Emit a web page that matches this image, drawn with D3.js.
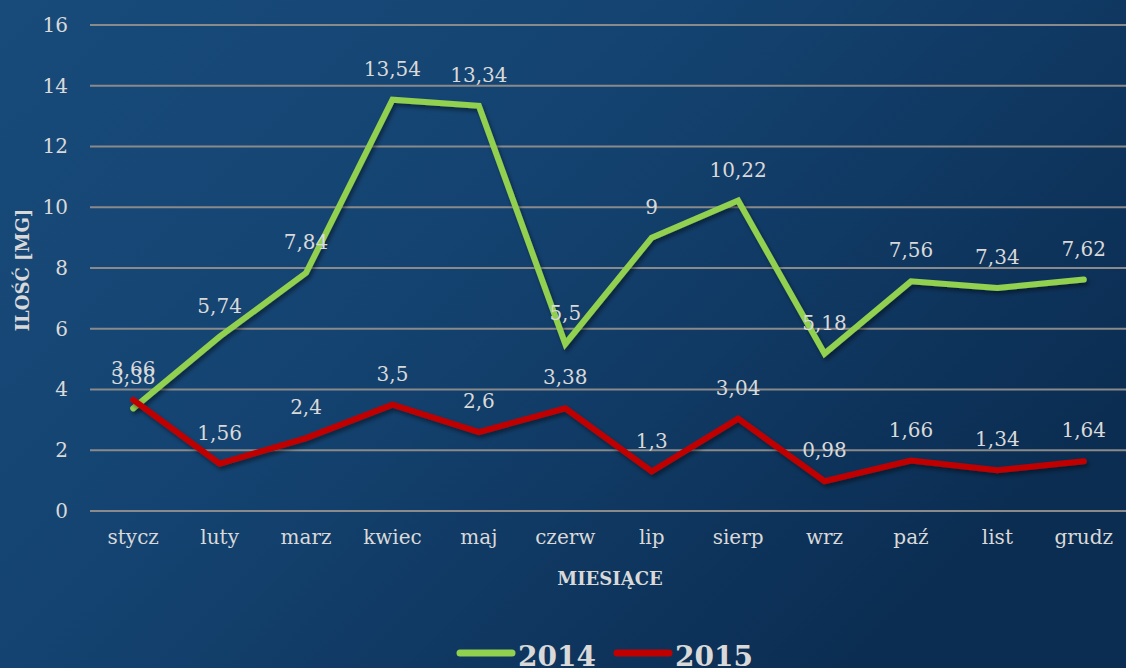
<!DOCTYPE html>
<html lang="pl">
<head>
<meta charset="UTF-8">
<title>Ilość [mg]</title>
<script src="https://d3js.org/d3.v7.min.js"></script>
<style>
  body { margin: 0; overflow: hidden; }
  text { font-family: "DejaVu Serif", "Liberation Serif", serif; }
</style>
</head>
<body>
<div id="chart"></div>
<script>
// data
var months = ["stycz", "luty", "marz", "kwiec", "maj", "czerw", "lip", "sierp", "wrz", "paź", "list", "grudz"];
var values2014 = [3.38, 5.74, 7.84, 13.54, 13.34, 5.5, 9, 10.22, 5.18, 7.56, 7.34, 7.62];
var values2015 = [3.66, 1.56, 2.4, 3.5, 2.6, 3.38, 1.3, 3.04, 0.98, 1.66, 1.34, 1.64];
var yTicks = [0, 2, 4, 6, 8, 10, 12, 14, 16];
var seriesNames = ["2014", "2015"];
var seriesColors = ["#92d050", "#c00000"];

var W = 1126, H = 668;
var svg = d3.select("#chart").append("svg")
    .attr("width", W)
    .attr("height", H);

// background gradient
var defs = svg.append("defs");
var grad = defs.append("linearGradient")
    .attr("id", "bg")
    .attr("x1", "0%").attr("y1", "0%")
    .attr("x2", "100%").attr("y2", "60%");
grad.append("stop").attr("offset", "0%").attr("stop-color", "#184b7a");
grad.append("stop").attr("offset", "45%").attr("stop-color", "#144371");
grad.append("stop").attr("offset", "100%").attr("stop-color", "#0b2d52");
svg.append("rect").attr("width", W).attr("height", H).attr("fill", "url(#bg)");

var shadow = defs.append("filter").attr("id", "shadow")
    .attr("x", "-5%").attr("y", "-5%").attr("width", "110%").attr("height", "120%");
shadow.append("feDropShadow")
    .attr("dx", 2).attr("dy", 3).attr("stdDeviation", 2)
    .attr("flood-color", "#000").attr("flood-opacity", 0.45);

// scales
var x = d3.scaleBand().domain(months).range([90, 1127]);
var y = d3.scaleLinear().domain([0, 16]).range([511, 25]);

// grid lines
svg.append("g").selectAll("line")
    .data(yTicks)
    .enter().append("line")
    .attr("x1", 90).attr("x2", W)
    .attr("y1", function(d) { return y(d); })
    .attr("y2", function(d) { return y(d); })
    .attr("stroke", "#8a8a8a")
    .attr("stroke-width", 2);

// y axis
var yAxis = svg.append("g")
    .attr("transform", "translate(68,0)")
    .call(d3.axisLeft(y).tickValues(yTicks).tickSize(0).tickPadding(0));
yAxis.select(".domain").remove();
yAxis.selectAll("text")
    .attr("fill", "#d9d9d9")
    .style("font-size", "20px")
    .style("font-family", "DejaVu Serif");

// x axis
var xAxis = svg.append("g")
    .attr("transform", "translate(0,530)")
    .call(d3.axisBottom(x).tickSize(0).tickPadding(0));
xAxis.select(".domain").remove();
xAxis.selectAll("text")
    .attr("fill", "#d9d9d9")
    .style("font-size", "20px")
    .style("font-family", "DejaVu Serif");

// axis titles
svg.append("text")
    .attr("x", 610).attr("y", 585)
    .attr("text-anchor", "middle")
    .attr("fill", "#d9d9d9")
    .style("font-size", "18px")
    .style("font-weight", "bold")
    .text("MIESIĄCE");

svg.append("text")
    .attr("transform", "translate(29,270) rotate(-90)")
    .attr("text-anchor", "middle")
    .attr("fill", "#d9d9d9")
    .style("font-size", "18px")
    .style("font-weight", "bold")
    .text("ILOŚĆ [MG]");

// lines
var line = d3.line()
    .x(function(d, i) { return x(months[i]) + x.bandwidth() / 2; })
    .y(function(d) { return y(d); });

var allSeries = [values2014, values2015];
allSeries.forEach(function(vals, s) {
    svg.append("path")
        .datum(vals)
        .attr("d", line)
        .attr("fill", "none")
        .attr("stroke", seriesColors[s])
        .attr("stroke-width", 6)
        .attr("stroke-linejoin", "miter")
        .attr("stroke-linecap", "round")
        .attr("filter", "url(#shadow)");
});

// data labels
allSeries.forEach(function(vals) {
    svg.append("g").selectAll("text")
        .data(vals)
        .enter().append("text")
        .attr("x", function(d, i) { return x(months[i]) + x.bandwidth() / 2; })
        .attr("y", function(d) { return y(d) - 24; })
        .attr("text-anchor", "middle")
        .attr("fill", "#d9d9d9")
        .style("font-size", "20px")
        .text(function(d) { return String(d).replace(".", ","); });
});

// legend
var legend = svg.append("g");
var legendX = [458, 615];
seriesNames.forEach(function(name, s) {
    legend.append("line")
        .attr("x1", legendX[s] + 2).attr("x2", legendX[s] + 54)
        .attr("y1", 653).attr("y2", 653)
        .attr("stroke", seriesColors[s])
        .attr("stroke-width", 7)
        .attr("stroke-linecap", "round");
    legend.append("text")
        .attr("x", legendX[s] + 60).attr("y", 666)
        .attr("fill", "#d9d9d9")
        .style("font-size", "28px")
        .style("font-weight", "bold")
        .text(name);
});
</script>
</body>
</html>
